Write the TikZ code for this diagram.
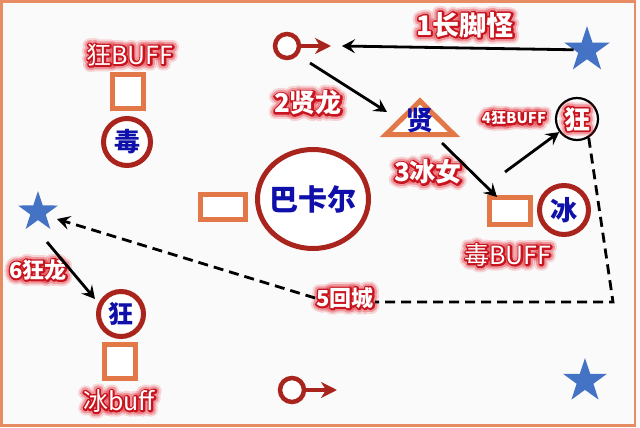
\documentclass[tikz,border=0pt]{standalone}
\usepackage{fontspec}
\newfontfamily\cjk{Noto Sans CJK SC}
\usetikzlibrary{shapes.geometric, arrows.meta}
\definecolor{darkred}{RGB}{168,36,28}
\definecolor{orng}{RGB}{226,120,72}
\definecolor{frameC}{RGB}{232,140,100}
\definecolor{starblue}{RGB}{68,114,196}
\definecolor{blueT}{RGB}{15,15,170}
\definecolor{glowred}{RGB}{228,40,52}
\definecolor{glowdark}{RGB}{200,20,30}
\definecolor{bgc}{RGB}{250,250,250}
\tikzset{
  lab/.style={inner sep=1pt},
  ring/.style={circle, draw=darkred, line width=5pt, fill=white, inner sep=0pt},
  orect/.style={rectangle, draw=orng, line width=5pt, fill=white, inner sep=0pt},
  starnode/.style={star, star points=5, star point ratio=2.6, fill=starblue, inner sep=0pt},
  arr/.style={draw=black, line width=2.8pt, -{Stealth[length=13pt,width=14pt,inset=5pt]}},
  route/.style={draw=black, line width=2.8pt, dash pattern=on 10pt off 6pt},
  maleln/.style={draw=darkred, line width=4pt, -{Stealth[length=16pt,width=16pt,inset=5pt]}},
  bluech/.style={text=blueT},
}
\newcommand\strk[2]{\special{pdf:literal direct q 2 Tr #1 w 1 j 1 J}#2\special{pdf:literal direct Q}}
\newcommand\glow[4]{%
  \node[lab, font=\cjk#3, text=glowred, opacity=0.18] at (#2) {\strk{12}{#4}};
  \node[lab, font=\cjk#3, text=glowred, opacity=0.35] at (#2) {\strk{8}{#4}};
  \node[lab, font=\cjk#3, text=glowdark] at (#2) {\strk{3.5}{#4}};
  \node[lab, font=\cjk#3, text=white] (#1) at (#2) {#4};}
\begin{document}
\begin{tikzpicture}[x=1pt,y=-1pt]
\fill[bgc] (0,0) rectangle (640,428);
\useasboundingbox (0,0) rectangle (640,428);
\draw[frameC, line width=2.5pt] (1.5,1.5) rectangle (635,425.5);

% stars
\node[starnode, minimum size=48pt] (s1) at (587,50) {};
\node[starnode, minimum size=42pt] (s2) at (38,212) {};
\node[starnode, minimum size=46pt] (s3) at (585,381) {};

% male symbols
\node[ring, line width=4.5pt, minimum size=24pt] (m1) at (287,46) {};
\coordinate (m1t) at (331,46);
\draw[maleln] (m1) -- (m1t);
\node[ring, line width=4.5pt, minimum size=24pt] (m2) at (292,390) {};
\coordinate (m2t) at (337,390);
\draw[maleln] (m2) -- (m2t);

% boxes
\node[orect, minimum width=31pt, minimum height=34pt] (bq1) at (128,91.5) {};
\node[orect, minimum width=45pt, minimum height=25pt] (bq2) at (223,207) {};
\node[orect, minimum width=41pt, minimum height=27pt] (bq3) at (510,211) {};
\node[orect, minimum width=31pt, minimum height=34pt] (bq4) at (120,361.5) {};

% rings with blue text
\node[ring, minimum size=47pt, bluech, font=\cjk\bfseries\fontsize{26pt}{26pt}\selectfont] (du) at (127,142) {毒};
\node[ring, minimum size=45pt, bluech, font=\cjk\bfseries\fontsize{25pt}{25pt}\selectfont] (k6) at (121,314) {狂};
\node[ring, minimum size=49pt, bluech, font=\cjk\bfseries\fontsize{27pt}{27pt}\selectfont] (bing) at (564,210) {冰};
\node[ellipse, draw=darkred, line width=5pt, fill=white, minimum width=111pt, minimum height=99pt, inner sep=0pt] (bk) at (313,199) {};
\node[bluech, font=\cjk\bfseries\fontsize{29pt}{29pt}\selectfont, inner sep=0pt] (bkt) at (bk) {巴卡尔};

% triangle
\draw[orng, line width=5pt, fill=white, line join=miter] (420,101) -- (454,134.5) -- (386,134.5) -- cycle;
\node[bluech, font=\cjk\bfseries\fontsize{27pt}{27pt}\selectfont, inner sep=0pt] (xian) at (420,121) {贤};

% kuang circle (4)
\node[circle, draw=black, line width=2.2pt, fill=white, minimum size=42pt, inner sep=0pt] (k4) at (577,119) {};
\glow{k4t}{577,119}{\bfseries\fontsize{26pt}{26pt}\selectfont}{狂}

% labels
\glow{l1}{465,25}{\bfseries\fontsize{27pt}{27pt}\selectfont}{1长脚怪}
\glow{lk}{130,55}{\fontsize{25pt}{25pt}\selectfont}{狂BUFF}
\glow{l2}{308,103}{\bfseries\fontsize{26pt}{26pt}\selectfont}{2贤龙}
\glow{l4}{514,118}{\bfseries\fontsize{15pt}{15pt}\selectfont}{4狂BUFF}
\glow{l3}{428,172}{\bfseries\fontsize{26pt}{26pt}\selectfont}{3冰女}
\glow{ld}{508,255}{\fontsize{25pt}{25pt}\selectfont}{毒BUFF}
\glow{l5}{345,298}{\bfseries\fontsize{22pt}{22pt}\selectfont}{5回城}
\glow{l6}{38,270}{\bfseries\fontsize{22pt}{22pt}\selectfont}{6狂龙}
\glow{lb}{119,401}{\fontsize{25pt}{25pt}\selectfont}{冰buff}

% arrows
\coordinate (a1e) at (342,46);
\draw[arr] (s1) -- (a1e);
\coordinate (a2s) at (310,63);
\coordinate (a2e) at (387,112);
\draw[arr] (a2s) -- (a2e);
\coordinate (a3s) at (442,143);
\coordinate (a3e) at (497,197);
\draw[arr] (a3s) -- (a3e);
\coordinate (a4s) at (505,172);
\draw[arr] (a4s) -- (k4);
\coordinate (c5) at (613,302);
\draw[route] (k4.-58) -- (c5) -- (l5.east |- c5);
\coordinate (a5e) at (57,219);
\draw[route, -{Stealth[length=13pt,width=14pt,inset=5pt]}] (l5.west) -- (a5e);
\coordinate (a6s) at (47,242);
\coordinate (a6e) at (95,299);
\draw[arr] (a6s) -- (a6e);
\end{tikzpicture}
\end{document}
